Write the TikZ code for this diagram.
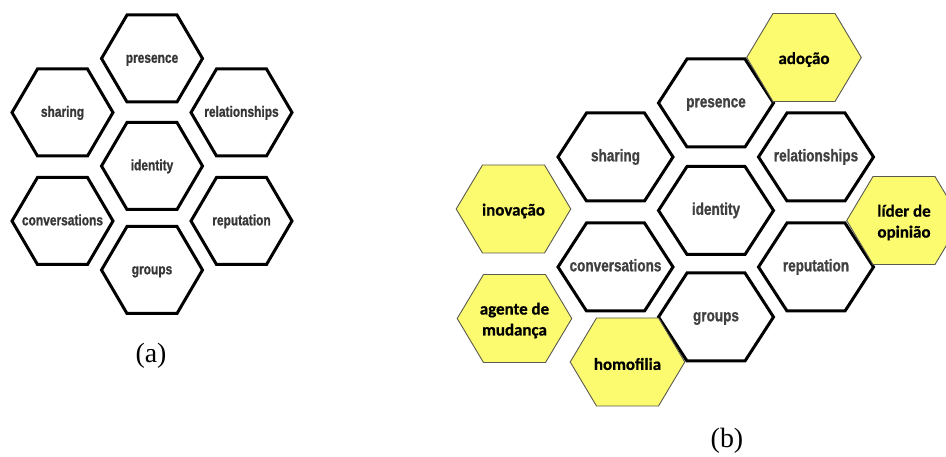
\documentclass[tikz,border=0pt]{standalone}
\usepackage{fontspec}
\setmainfont{Liberation Serif}
\newfontfamily\hexfont[FakeStretch=0.8,FakeBold=1]{Liberation Sans}
\newfontfamily\tagfont[FakeBold=0.6]{Carlito}

\definecolor{hexink}{HTML}{363636}
\definecolor{hexinkb}{HTML}{404040}
\definecolor{hexfill}{HTML}{FCFA6E}
\definecolor{hexrim}{HTML}{5A5A50}

% #1 name, #2 x, #3 y, #4 half width, #5 half top edge, #6 half height, #7 style, #8 text
\newcommand\hexcell[8]{%
  \draw[#7] (#2-#4,#3) -- (#2-#5,#3-#6) -- (#2+#5,#3-#6) -- (#2+#4,#3)
    -- (#2+#5,#3+#6) -- (#2-#5,#3+#6) -- cycle;
  \node[#7 label] (#1) at (#2,#3) {#8};}

\tikzset{
  small hex/.style={draw=black, line width=3bp, fill=white, line join=miter},
  small hex label/.style={text=hexink, font=\hexfont\bfseries\fontsize{15}{17}\selectfont,
    inner sep=0pt, text height=1.25ex, text depth=0.25ex, yshift=-2bp},
  big hex/.style={draw=black, line width=3bp, fill=white, line join=miter},
  big hex label/.style={text=hexinkb, font=\hexfont\bfseries\fontsize{17}{19}\selectfont,
    inner sep=0pt, text height=1.25ex, text depth=0.25ex, yshift=-2bp},
  tag hex/.style={draw=hexrim, line width=0.9bp, fill=hexfill},
  tag hex label/.style={text=black, align=center, font=\tagfont\bfseries\fontsize{17}{21}\selectfont,
    inner sep=0pt, yshift=-2bp},
  caption/.style={font=\fontsize{28}{30}\selectfont, inner sep=0pt}
}

\begin{document}
\begin{tikzpicture}[x=1bp, y=-1bp]
\clip (0,0) rectangle (946,457);

% (a) the seven building blocks
\hexcell{aPres}{152}{58.5}{50.5}{25}{43.5}{small hex}{presence}
\hexcell{aShar}{62.5}{112.5}{50.5}{25}{43.5}{small hex}{sharing}
\hexcell{aRel}{241.5}{112.5}{50.5}{25}{43.5}{small hex}{relationships}
\hexcell{aId}{152}{166}{50.5}{25}{43.5}{small hex}{identity}
\hexcell{aConv}{62.5}{221}{50.5}{25}{43.5}{small hex}{conversations}
\hexcell{aRep}{241.5}{221}{50.5}{25}{43.5}{small hex}{reputation}
\hexcell{aGrp}{152}{270}{50.5}{25}{43.5}{small hex}{groups}
\node[caption] (capA) at (151,356) {(a)};

% (b) the same blocks, widened
\hexcell{bPres}{716}{103}{57.5}{29}{44}{big hex}{presence}
\hexcell{bShar}{615.5}{157}{57.5}{29}{44}{big hex}{sharing}
\hexcell{bRel}{816}{157}{57.5}{29}{44}{big hex}{relationships}
\hexcell{bId}{716}{210.5}{57.5}{29}{44}{big hex}{identity}
\hexcell{bConv}{615.5}{267}{57.5}{29}{44}{big hex}{conversations}
\hexcell{bRep}{816}{267}{57.5}{29}{44}{big hex}{reputation}
\hexcell{bGrp}{716}{317}{57.5}{29}{44}{big hex}{groups}

% added concepts
\hexcell{yAdo}{804}{57.5}{57.3}{31}{44}{tag hex}{adoção}
\hexcell{yIno}{513.5}{209}{57.3}{31}{44}{tag hex}{inovação}
\hexcell{yAge}{514.5}{318.5}{57.3}{31}{44}{tag hex}{agente de\\mudança}
\hexcell{yHom}{627.5}{362}{57.3}{31}{44}{tag hex}{homofilia}
\hexcell{yLid}{904}{220.5}{57.3}{31}{44}{tag hex}{líder de\\opinião}
\node[caption] (capB) at (727,441) {(b)};
\end{tikzpicture}
\end{document}
